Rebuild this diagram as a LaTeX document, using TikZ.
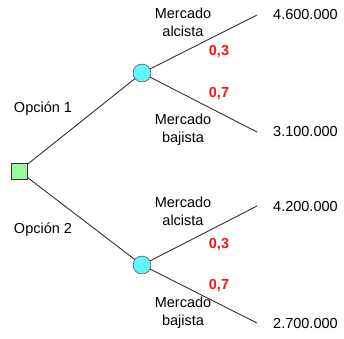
\documentclass[tikz,border=0pt]{standalone}
\usepackage{fontspec}
\setmainfont{Liberation Sans}
\usepackage{tikz}
\usetikzlibrary{positioning}
\definecolor{DecGreen}{RGB}{153,250,153}
\definecolor{ChanceCyan}{RGB}{100,245,250}
\definecolor{ProbRed}{RGB}{250,20,20}
\definecolor{BranchGray}{RGB}{50,50,50}

\begin{document}
\begin{tikzpicture}[x=1pt, y=-1pt,
          dec/.style={rectangle, draw=BranchGray, fill=DecGreen,
                      minimum size=16pt, inner sep=0pt},
          chance/.style={circle, draw=BranchGray, fill=ChanceCyan,
                         minimum size=18pt, inner sep=0pt},
          val/.style={inner sep=0pt, font=\fontsize{14.5}{18}\selectfont},
          lbl/.style={align=center, inner sep=0pt,
                      font=\fontsize{14.5}{18}\selectfont},
          prob/.style={inner sep=0pt, text=ProbRed,
                       font=\fontsize{14.5}{18}\selectfont\bfseries},
          branch/.style={line width=0.9pt, BranchGray}
        ]
        \useasboundingbox (0,0) rectangle (344,338);

        % Decision and chance nodes
        \node[dec]    (D)  at (19, 171) {};
        \node[chance] (C1) at (142, 73) {};
        \node[chance] (C2) at (142, 265) {};

        % Branch ends and payoffs
        \coordinate (e1) at (257, 15);
        \coordinate (e2) at (257, 132);
        \coordinate (e3) at (257, 206);
        \coordinate (e4) at (257, 323);
        \node[val, right=16pt of e1] (v1) {4.600.000};
        \node[val, right=16pt of e2] (v2) {3.100.000};
        \node[val, right=16pt of e3] (v3) {4.200.000};
        \node[val, right=16pt of e4] (v4) {2.700.000};

        % Branches
        \draw[branch] (D)  -- (C1);
        \draw[branch] (D)  -- (C2);
        \draw[branch] (C1) -- (e1);
        \draw[branch] (C1) -- (e2);
        \draw[branch] (C2) -- (e3);
        \draw[branch] (C2) -- (e4);

        % Option labels
        \node[lbl] (o1) at (43, 109) {Opción 1};
        \node[lbl] (o2) at (43, 230) {Opción 2};

        % Market labels
        \node[lbl] (m1) at (183, 22)  {Mercado\\alcista};
        \node[lbl] (m2) at (183, 130) {Mercado\\bajista};
        \node[lbl] (m3) at (183, 211) {Mercado\\alcista};
        \node[lbl] (m4) at (183, 313) {Mercado\\bajista};

        % Probabilities
        \node[prob] (p1) at (219, 52)  {0,3};
        \node[prob] (p2) at (219, 94)  {0,7};
        \node[prob] (p3) at (219, 245) {0,3};
        \node[prob] (p4) at (219, 286) {0,7};
      \end{tikzpicture}
\end{document}
